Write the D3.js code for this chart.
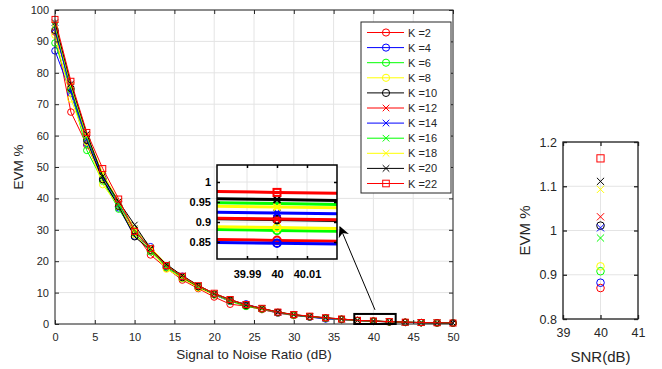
<!DOCTYPE html>
<html>
<head>
<meta charset="utf-8">
<script src="https://cdn.jsdelivr.net/npm/d3@7"></script>
<style>
  body { margin: 0; background: #fff; }
  svg { display: block; }
  text { font-family: "Liberation Sans", Arial, Helvetica, sans-serif; fill: #262626; }
</style>
</head>
<body>
<svg id="chart" width="662" height="369"></svg>
<script>
// ---- data -------------------------------------------------------------
const snr = [0, 2, 4, 6, 8, 10, 12, 14, 16, 18, 20, 22, 24, 26, 28, 30, 32, 34, 36, 38, 40, 42, 44, 46, 48, 50];

const kLabels = ["K =2", "K =4", "K =6", "K =8", "K =10", "K =12", "K =14", "K =16", "K =18", "K =20", "K =22"];
const kColors = ["#ff0000", "#0000ff", "#00ff00", "#ffff00", "#000000", "#ff0000", "#0000ff", "#00ff00", "#ffff00", "#000000", "#ff0000"];
const kMarkers = ["o", "o", "o", "o", "o", "x", "x", "x", "x", "x", "s"];

// EVM (%) versus SNR for each K
const evmK2  = [93.0, 67.5, 57.0, 46.0, 37.5, 29.0, 22.0, 17.8, 14.0, 11.3, 8.6, 6.3, 5.7, 4.6, 3.5, 2.7, 2.2, 1.8, 1.45, 1.06, 0.854, 0.66, 0.52, 0.42, 0.35, 0.29];
const evmK4  = [87.0, 73.5, 57.5, 46.5, 37.0, 28.0, 24.6, 18.2, 15.2, 11.8, 9.3, 7.2, 6.4, 4.7, 3.5, 2.8, 2.2, 1.6, 1.40, 1.05, 0.847, 0.65, 0.50, 0.42, 0.34, 0.28];
const evmK6  = [89.5, 74.5, 55.3, 45.5, 36.6, 29.0, 23.0, 18.0, 14.5, 11.8, 9.3, 7.3, 5.6, 4.8, 3.6, 2.8, 2.3, 1.8, 1.50, 1.08, 0.879, 0.68, 0.53, 0.43, 0.36, 0.30];
const evmK8  = [92.0, 71.7, 58.0, 44.4, 37.5, 28.5, 23.5, 17.5, 14.6, 11.5, 9.3, 7.4, 5.9, 4.7, 3.6, 2.8, 2.3, 1.85, 1.45, 1.09, 0.886, 0.69, 0.54, 0.44, 0.36, 0.30];
const evmK10 = [93.5, 75.0, 58.5, 46.0, 37.5, 27.8, 23.5, 18.5, 14.8, 11.9, 9.5, 7.5, 5.9, 4.8, 3.7, 2.9, 2.3, 1.9, 1.50, 1.11, 0.906, 0.70, 0.55, 0.45, 0.37, 0.30];
const evmK12 = [95.0, 76.0, 60.0, 47.5, 38.5, 30.0, 24.0, 18.5, 15.0, 12.0, 9.6, 7.6, 6.0, 4.8, 3.7, 2.9, 2.4, 1.9, 1.50, 1.11, 0.9075, 0.71, 0.56, 0.45, 0.37, 0.30];
const evmK14 = [94.0, 74.0, 59.0, 47.0, 38.0, 30.5, 24.5, 18.8, 15.3, 12.1, 9.5, 7.6, 6.2, 4.9, 3.7, 2.9, 2.3, 1.8, 1.50, 1.12, 0.9225, 0.72, 0.55, 0.45, 0.37, 0.30];
const evmK16 = [95.0, 75.5, 59.5, 47.5, 38.0, 30.0, 23.5, 18.5, 15.0, 12.0, 9.6, 7.6, 6.0, 4.9, 3.8, 2.9, 2.4, 1.9, 1.55, 1.15, 0.946, 0.74, 0.57, 0.46, 0.38, 0.31];
const evmK18 = [95.5, 76.0, 60.0, 48.0, 39.0, 30.5, 24.5, 19.0, 15.2, 12.2, 9.7, 7.7, 6.1, 4.9, 3.8, 3.0, 2.4, 1.95, 1.55, 1.14, 0.9375, 0.73, 0.57, 0.46, 0.38, 0.31];
const evmK20 = [96.0, 76.5, 60.5, 47.0, 39.0, 31.6, 24.0, 19.0, 15.4, 12.3, 9.7, 7.8, 6.1, 5.0, 3.8, 3.0, 2.4, 2.0, 1.60, 1.16, 0.956, 0.75, 0.58, 0.47, 0.38, 0.31];
const evmK22 = [97.0, 77.3, 61.0, 49.5, 39.8, 29.5, 24.0, 18.6, 15.2, 12.2, 9.8, 7.8, 6.2, 5.0, 3.8, 3.0, 2.5, 2.0, 1.60, 1.18, 0.974, 0.77, 0.59, 0.47, 0.39, 0.32];

// EVM (%) at SNR = 40 dB, second run, same K order
const evmAt40 = [0.870, 0.882, 0.908, 0.919, 1.011, 1.031, 1.006, 0.983, 1.093, 1.111, 1.163];

const xTicks = [0, 5, 10, 15, 20, 25, 30, 35, 40, 45, 50];
const yTicks = [0, 10, 20, 30, 40, 50, 60, 70, 80, 90, 100];
const insetXTicks = [39.99, 40, 40.01];
const insetYTicks = [0.85, 0.9, 0.95, 1];
const sideXTicks = [39, 40, 41];
const sideYTicks = [0.8, 0.9, 1.0, 1.1, 1.2];

const evmSeries = [evmK2, evmK4, evmK6, evmK8, evmK10, evmK12, evmK14, evmK16, evmK18, evmK20, evmK22];
const series = kLabels.map((label, i) => ({
  label, color: kColors[i], marker: kMarkers[i],
  points: snr.map((s, j) => ({ x: s, y: evmSeries[i][j] }))
}));

// ---- helpers ----------------------------------------------------------
const AXIS = "#262626", GRID = "#e4e4e4";
const svg = d3.select("#chart");

function marker(g, type, cx, cy, s, color, sw) {
  if (type === "o") {
    g.append("circle").attr("cx", cx).attr("cy", cy).attr("r", s)
      .attr("fill", "none").attr("stroke", color).attr("stroke-width", sw);
  } else if (type === "x") {
    g.append("path")
      .attr("d", `M${cx - s},${cy - s}L${cx + s},${cy + s}M${cx - s},${cy + s}L${cx + s},${cy - s}`)
      .attr("fill", "none").attr("stroke", color).attr("stroke-width", sw);
  } else {
    g.append("rect").attr("x", cx - s).attr("y", cy - s).attr("width", 2 * s).attr("height", 2 * s)
      .attr("fill", "none").attr("stroke", color).attr("stroke-width", sw);
  }
}

function frame(g, x, y, opts) {
  const [x0, x1] = x.range(), [y0, y1] = y.range();
  g.append("g").selectAll("line").data(opts.xt).join("line")
    .attr("x1", d => x(d)).attr("x2", d => x(d)).attr("y1", y1).attr("y2", y0)
    .attr("stroke", GRID).attr("stroke-width", 1);
  g.append("g").selectAll("line").data(opts.yt).join("line")
    .attr("y1", d => y(d)).attr("y2", d => y(d)).attr("x1", x0).attr("x2", x1)
    .attr("stroke", GRID).attr("stroke-width", 1);
}

function axes(g, x, y, opts) {
  const [x0, x1] = x.range(), [y0, y1] = y.range();
  const w = x1 - x0, h = y0 - y1;
  const tl = opts.tick || 4;
  const mk = (axis, tr) => {
    const a = g.append("g").attr("transform", tr).call(axis);
    a.select(".domain").remove();
    a.selectAll("line").attr("stroke", opts.color || AXIS).attr("stroke-width", opts.sw || 1);
    return a;
  };
  const bx = mk(d3.axisBottom(x).tickValues(opts.xt).tickSize(-tl).tickPadding(opts.xpad).tickFormat(opts.xf), `translate(0,${y0})`);
  const ly = mk(d3.axisLeft(y).tickValues(opts.yt).tickSize(-tl).tickPadding(opts.ypad).tickFormat(opts.yf), `translate(${x0},0)`);
  mk(d3.axisTop(x).tickValues(opts.xt).tickSize(-tl).tickFormat(""), `translate(0,${y1})`);
  mk(d3.axisRight(y).tickValues(opts.yt).tickSize(-tl).tickFormat(""), `translate(${x1},0)`);
  [bx, ly].forEach(a => a.selectAll("text")
    .style("font-size", opts.fs + "px").style("font-weight", opts.bold ? "bold" : "normal")
    .attr("fill", opts.textColor || AXIS).style("fill", opts.textColor || AXIS));
  g.append("rect").attr("x", x0).attr("y", y1).attr("width", w).attr("height", h)
    .attr("fill", "none").attr("stroke", opts.color || AXIS).attr("stroke-width", opts.sw || 1);
}

// ---- main plot --------------------------------------------------------
const x = d3.scaleLinear().domain([0, 50]).range([55, 453]);
const y = d3.scaleLinear().domain([0, 100]).range([324, 10]);
const main = svg.append("g");

frame(main, x, y, { xt: xTicks, yt: yTicks });

const line = d3.line().x(d => x(d.x)).y(d => y(d.y));
series.forEach(s => {
  const g = main.append("g");
  g.append("path").attr("d", line(s.points)).attr("fill", "none")
    .attr("stroke", s.color).attr("stroke-width", 1);
  s.points.forEach(p => marker(g, s.marker, x(p.x), y(p.y), s.marker === "o" ? 3.3 : 3, s.color, 1));
});

axes(main, x, y, {
  xt: xTicks, yt: yTicks, xpad: 9, ypad: 6, fs: 11,
  xf: d3.format("d"), yf: d3.format("d")
});

main.append("text").attr("x", x(25)).attr("y", 359).attr("text-anchor", "middle")
  .style("font-size", "13.5px").text("Signal to Noise Ratio (dB)");
main.append("text").attr("transform", `translate(22.5,${y(50)}) rotate(-90)`)
  .attr("text-anchor", "middle").style("font-size", "13.5px").text("EVM %");

// zoom rectangle around 40 dB
main.append("rect")
  .attr("x", x(37.6)).attr("y", y(3.2))
  .attr("width", x(42.8) - x(37.6)).attr("height", y(0) - y(3.2))
  .attr("fill", "none").attr("stroke", "#000").attr("stroke-width", 2);

// ---- legend -----------------------------------------------------------
const leg = svg.append("g");
leg.append("rect").attr("x", 361).attr("y", 22).attr("width", 90).attr("height", 171)
  .attr("fill", "#fff").attr("stroke", AXIS).attr("stroke-width", 1);
series.forEach((s, i) => {
  const cy = 32.5 + i * 15.1;
  const g = leg.append("g");
  g.append("line").attr("x1", 367).attr("x2", 404).attr("y1", cy).attr("y2", cy)
    .attr("stroke", s.color).attr("stroke-width", 1);
  marker(g, s.marker, 386, cy, s.marker === "o" ? 3.6 : 3.3, s.color, 1);
  g.append("text").attr("x", 408).attr("y", cy + 4).style("font-size", "11px").text(s.label);
});

// ---- inset (zoom at 40 dB) --------------------------------------------
const ix = d3.scaleLinear().domain([39.98, 40.02]).range([217, 337]);
const iy = d3.scaleLinear().domain([0.8075, 1.0425]).range([259, 165]);
const inset = svg.append("g");
inset.append("rect").attr("x", 217).attr("y", 165).attr("width", 120).attr("height", 94).attr("fill", "#fff");
svg.append("clipPath").attr("id", "insetClip").append("rect")
  .attr("x", 217).attr("y", 165).attr("width", 120).attr("height", 94);
frame(inset, ix, iy, { xt: insetXTicks, yt: insetYTicks });

const iline = d3.line().x(d => ix(d.x)).y(d => iy(d.y));
const iplot = inset.append("g").attr("clip-path", "url(#insetClip)");
series.forEach(s => {
  const g = iplot.append("g");
  g.append("path").attr("d", iline(s.points)).attr("fill", "none")
    .attr("stroke", s.color).attr("stroke-width", 3);
  s.points.filter(p => p.x === 40)
    .forEach(p => marker(g, s.marker, ix(p.x), iy(p.y), s.marker === "o" ? 3.8 : 3.5, s.color, 2));
});

axes(inset, ix, iy, {
  xt: insetXTicks, yt: insetYTicks, xpad: 11, ypad: 6, fs: 11, bold: true,
  color: "#000", textColor: "#000", sw: 1.5, tick: 3,
  xf: d => d3.format("")(+d.toFixed(2)), yf: d => d3.format("")(+d.toFixed(2))
});

// arrow from the zoom rectangle to the inset
svg.append("defs").append("marker").attr("id", "arrowHead")
  .attr("viewBox", "0 0 10 10").attr("refX", 9).attr("refY", 5)
  .attr("markerWidth", 15).attr("markerHeight", 11).attr("markerUnits", "userSpaceOnUse")
  .attr("orient", "auto")
  .append("path").attr("d", "M0,0L10,5L0,10L3,5Z").attr("fill", "#000");
svg.append("line")
  .attr("x1", x(40.2)).attr("y1", y(4.5))
  .attr("x2", ix(40.02) + 3).attr("y2", iy(0.8075) - 32)
  .attr("stroke", "#000").attr("stroke-width", 1).attr("marker-end", "url(#arrowHead)");

// ---- side panel: EVM at 40 dB -----------------------------------------
const sx = d3.scaleLinear().domain([39, 41]).range([563, 638]);
const sy = d3.scaleLinear().domain([0.8, 1.2]).range([319, 142]);
const side = svg.append("g");
frame(side, sx, sy, { xt: sideXTicks, yt: sideYTicks });
series.forEach((s, i) => {
  marker(side, s.marker, sx(40), sy(evmAt40[i]), s.marker === "o" ? 3.8 : 3.6, s.color, 1);
});
axes(side, sx, sy, {
  xt: sideXTicks, yt: sideYTicks, xpad: 9, ypad: 6, fs: 12.5,
  color: "#222", textColor: "#262626", sw: 1.3,
  xf: d3.format("d"), yf: d => d3.format("")(+d.toFixed(1))
});
side.append("text").attr("x", sx(40)).attr("y", 362).attr("text-anchor", "middle")
  .style("font-size", "15px").text("SNR(dB)");
side.append("text").attr("transform", `translate(530,${sy(1)}) rotate(-90)`)
  .attr("text-anchor", "middle").style("font-size", "15px").text("EVM %");
</script>
</body>
</html>
